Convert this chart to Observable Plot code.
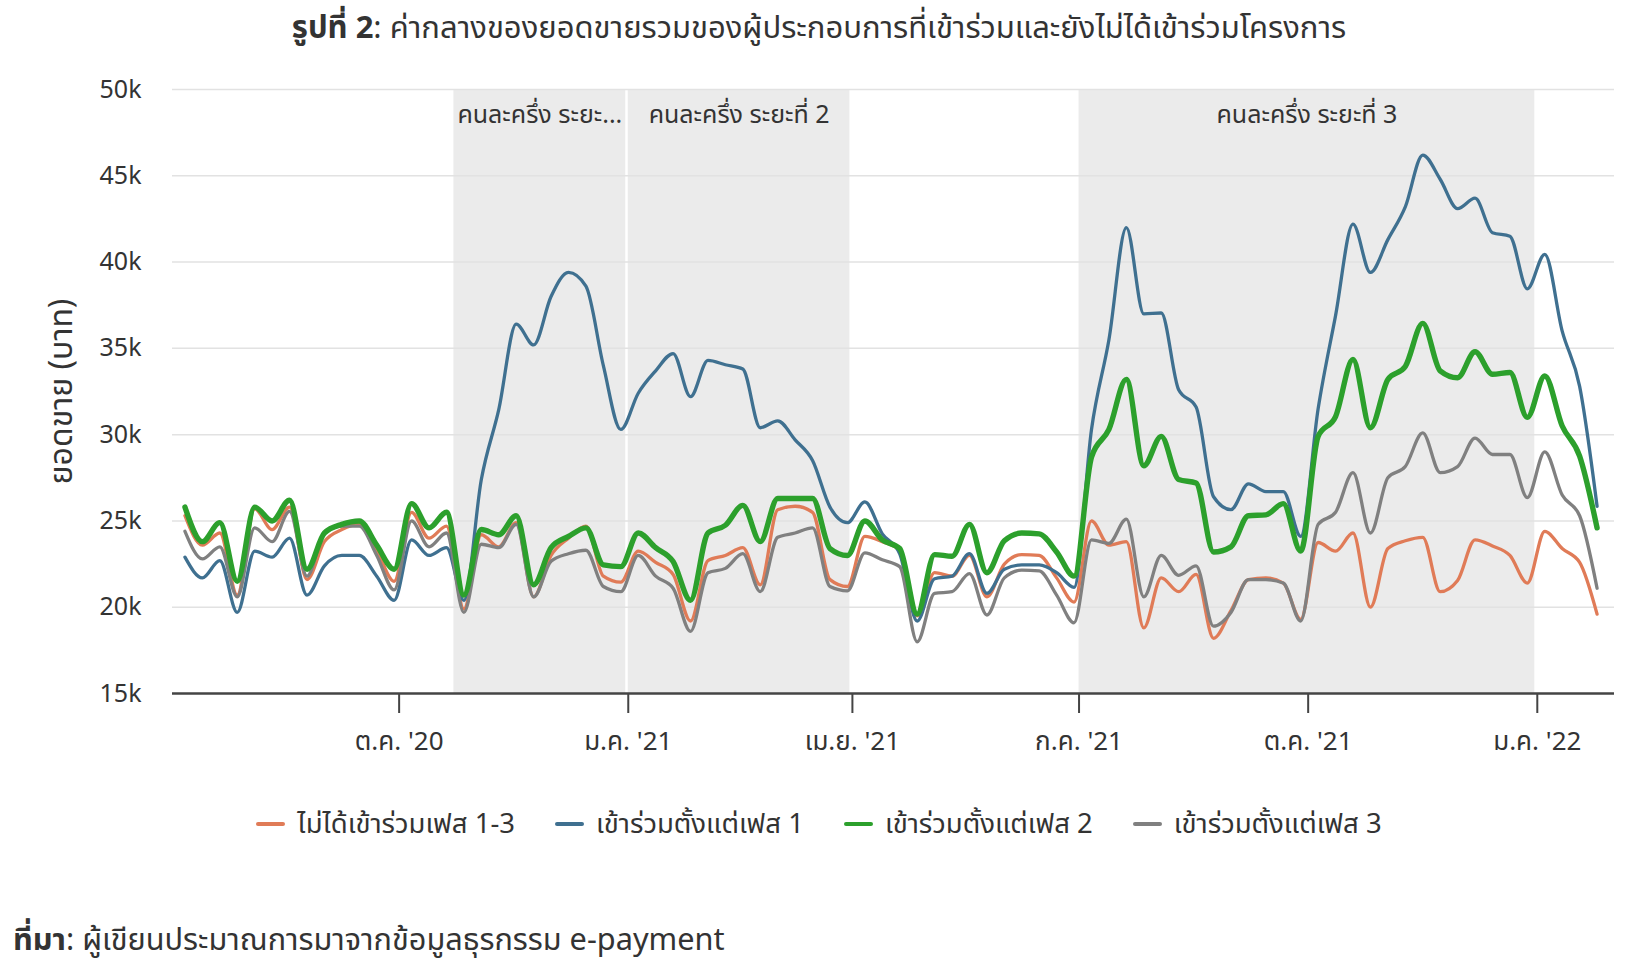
<!DOCTYPE html>
<html><head><meta charset="utf-8">
<script src="https://cdn.jsdelivr.net/npm/d3@7"></script>
<script src="https://cdn.jsdelivr.net/npm/@observablehq/plot@0.6"></script>
<style>
body{margin:0;background:#fff;font-family:"Noto Sans Thai","Noto Sans",sans-serif;color:#333;width:1638px;height:970px;position:relative;overflow:hidden}
#title{position:absolute;top:0;left:0;width:1638px;height:56px;display:flex;align-items:center;justify-content:center;font-size:31px;white-space:nowrap}
#chart{position:absolute;top:56px;left:0}
#legend{position:absolute;top:800px;left:0;width:1638px;height:48px;display:flex;align-items:center;justify-content:center;font-size:27.5px}
.item{display:flex;align-items:center;margin:0 20px;white-space:nowrap}
.sw{width:29px;height:4.5px;margin-right:12px;border-radius:2px}
#source{position:absolute;top:921px;left:13px;font-size:30.7px;line-height:40px;white-space:nowrap}
</style></head><body>
<div id="title"><span><b>รูปที่ 2</b>: ค่ากลางของยอดขายรวมของผู้ประกอบการที่เข้าร่วมและยังไม่ได้เข้าร่วมโครงการ</span></div>
<div id="chart"></div>
<div id="legend"></div>
<div id="source"><b>ที่มา</b>: ผู้เขียนประมาณการมาจากข้อมูลธุรกรรม e-payment</div>
<script>
// weekly observations starting at this date (thousand baht)
const firstWeek = "2020-07-07";
const seriesNames = ["ไม่ได้เข้าร่วมเฟส 1-3","เข้าร่วมตั้งแต่เฟส 1","เข้าร่วมตั้งแต่เฟส 2","เข้าร่วมตั้งแต่เฟส 3"];
const seriesColors = ["#e07b57","#3f7090","#2ca02c","#808080"];
const seriesWidths = [3.3,3.3,5.4,3.3];

const notJoined = [25.3,23.6,24.3,20.7,25.7,24.5,25.8,21.6,23.8,24.5,
24.8,23.3,21.5,25.5,24.0,24.7,19.9,24.2,23.5,24.9,
20.6,23.0,24.0,24.7,21.8,21.45,23.25,22.6,21.9,19.2,
22.7,23.0,23.45,21.3,25.65,25.85,25.5,21.6,21.2,24.1,
23.8,23.3,19.5,22.0,21.8,23.0,20.6,22.5,23.05,23.0,
21.7,20.3,25.0,23.6,23.8,18.8,21.7,20.9,21.9,18.2,
19.8,21.6,21.7,21.4,19.3,23.75,23.25,24.3,20.0,23.4,
23.85,24.05,20.9,21.55,23.9,23.55,23.0,21.4,24.4,23.4,
22.6,19.6];
const sincePhase1 = [22.9,21.7,22.7,19.7,23.25,22.9,24.0,20.7,22.4,23.0,
23.0,21.8,20.4,23.9,23.0,23.45,20.4,27.4,31.45,36.4,
35.2,38.0,39.4,38.6,34.0,30.3,32.4,33.7,34.7,32.2,
34.3,34.05,33.8,30.4,30.8,29.7,28.5,25.8,24.9,26.1,
24.25,23.1,19.2,21.65,21.8,23.1,20.8,22.2,22.45,22.45,
22.0,21.15,30.3,35.5,42.0,37.0,37.05,32.6,31.6,26.4,
25.65,27.15,26.7,26.7,24.1,31.5,36.9,42.2,39.4,41.3,
43.2,46.2,44.8,43.1,43.7,41.7,41.5,38.45,40.45,36.0,
32.8,25.85];
const sincePhase2 = [25.8,23.8,24.9,21.5,25.8,25.0,26.2,22.2,24.3,24.8,
25.0,23.6,22.2,26.0,24.6,25.5,20.7,24.5,24.2,25.3,
21.3,23.45,24.1,24.6,22.45,22.35,24.3,23.45,22.65,20.4,
24.3,24.75,25.9,23.8,26.3,26.3,26.3,23.4,23.0,25.0,
23.9,23.4,19.6,23.05,22.95,24.8,22.0,23.85,24.3,24.25,
23.2,21.8,28.7,30.3,33.2,28.2,29.9,27.4,27.2,23.2,
23.5,25.3,25.35,26.0,23.25,29.9,31.05,34.35,30.4,33.2,
33.95,36.45,33.7,33.3,34.8,33.5,33.6,31.0,33.4,30.5,
28.75,24.6];
const sincePhase3 = [24.4,22.8,23.5,20.6,24.6,23.8,25.55,21.8,24.3,24.7,
24.7,23.0,21.0,25.0,23.5,24.3,19.7,23.65,23.45,24.8,
20.6,22.66,23.1,23.3,21.2,20.9,23.0,21.8,21.1,18.6,
22.0,22.25,23.1,20.9,24.05,24.3,24.6,21.2,20.95,23.15,
22.75,22.35,18.0,20.8,20.9,21.95,19.55,21.7,22.15,22.1,
20.7,19.1,23.9,23.7,25.1,20.6,23.0,21.85,22.4,18.9,
19.7,21.6,21.6,21.4,19.2,24.8,25.5,27.8,24.3,27.5,
28.15,30.1,27.8,28.15,29.8,28.85,28.85,26.35,29.0,26.5,
25.3,21.1];

const phaseStart = ["2020-10-23","2021-01-01","2021-07-01"];
const phaseEnd = ["2020-12-31","2021-03-31","2021-12-31"];
const phaseLabels = ["คนละครึ่ง ระยะ...","คนละครึ่ง ระยะที่ 2","คนละครึ่ง ระยะที่ 3"];

const xTickDates = ["2020-10-01","2021-01-01","2021-04-01","2021-07-01","2021-10-01","2022-01-01"];
const xTickLabels = ["ต.ค. '20","ม.ค. '21","เม.ย. '21","ก.ค. '21","ต.ค. '21","ม.ค. '22"];
const yTicks = [15,20,25,30,35,40,45,50];
const yLabel = "ยอดขาย (บาท)";

const allSeries = [notJoined, sincePhase1, sincePhase2, sincePhase3];
const start = new Date(firstWeek + "T00:00:00Z");
const rows = [];
allSeries.forEach((vals, s) => vals.forEach((v, i) => rows.push({date: d3.utcDay.offset(start, 7 * i), value: v, s})));

const phases = phaseStart.map((d, i) => ({
  start: new Date(d + "T00:00:00Z"),
  end: new Date(phaseEnd[i] + "T00:00:00Z"),
  label: phaseLabels[i]
}));
const tickDates = xTickDates.map(d => new Date(d + "T00:00:00Z"));
const tickLabelMap = new Map(tickDates.map((d, i) => [+d, xTickLabels[i]]));

const lineMarks = allSeries.map((_, s) => Plot.line(rows.filter(r => r.s === s), {
  x: "date", y: "value", stroke: seriesColors[s], strokeWidth: seriesWidths[s], curve: "monotone-x"
}));
const drawOrder = [0, 1, 3, 2];

const chart = Plot.plot({
  width: 1638, height: 717,
  marginLeft: 172, marginRight: 24, marginTop: 33, marginBottom: 80,
  style: {fontFamily: '"Noto Sans Thai","Noto Sans",sans-serif', color: "#333", background: "#fff"},
  x: {type: "utc", domain: [new Date("2020-07-02T00:00:00Z"), new Date("2022-02-01T00:00:00Z")]},
  y: {domain: [15, 50]},
  marks: [
    Plot.rectX(phases, {x1: "start", x2: "end", fill: "#ebebeb"}),
    Plot.gridY(yTicks.filter(t => t > 15), {stroke: "#e2e2e2", strokeOpacity: 1, strokeWidth: 1.5}),
    Plot.axisY({ticks: yTicks, tickFormat: d => d + "k", tickSize: 0, tickPadding: 31, fontSize: 25, fill: "#333", label: null}),
    Plot.axisX({ticks: tickDates, tickFormat: d => tickLabelMap.get(+d), tickSize: 20, tickPadding: 18, fontSize: 26, stroke: "#444", strokeWidth: 2, fill: "#333", label: null}),
    Plot.ruleY([15], {stroke: "#444", strokeWidth: 2.5}),
    ...drawOrder.map(s => lineMarks[s]),
    Plot.text(phases, {x: d => new Date((+d.start + +d.end) / 2), text: "label", frameAnchor: "top", dy: 16, fontSize: 25, fill: "#333"}),
    Plot.text([yLabel], {frameAnchor: "left", textAnchor: "middle", dx: -111, rotate: -90, fontSize: 32, fill: "#333"})
  ]
});
document.getElementById("chart").appendChild(chart);

const legend = document.getElementById("legend");
seriesNames.forEach((name, i) => {
  const item = document.createElement("div");
  item.className = "item";
  const sw = document.createElement("div");
  sw.className = "sw";
  sw.style.background = seriesColors[i];
  const t = document.createElement("span");
  t.textContent = name;
  item.appendChild(sw); item.appendChild(t);
  legend.appendChild(item);
});
</script>
</body></html>
